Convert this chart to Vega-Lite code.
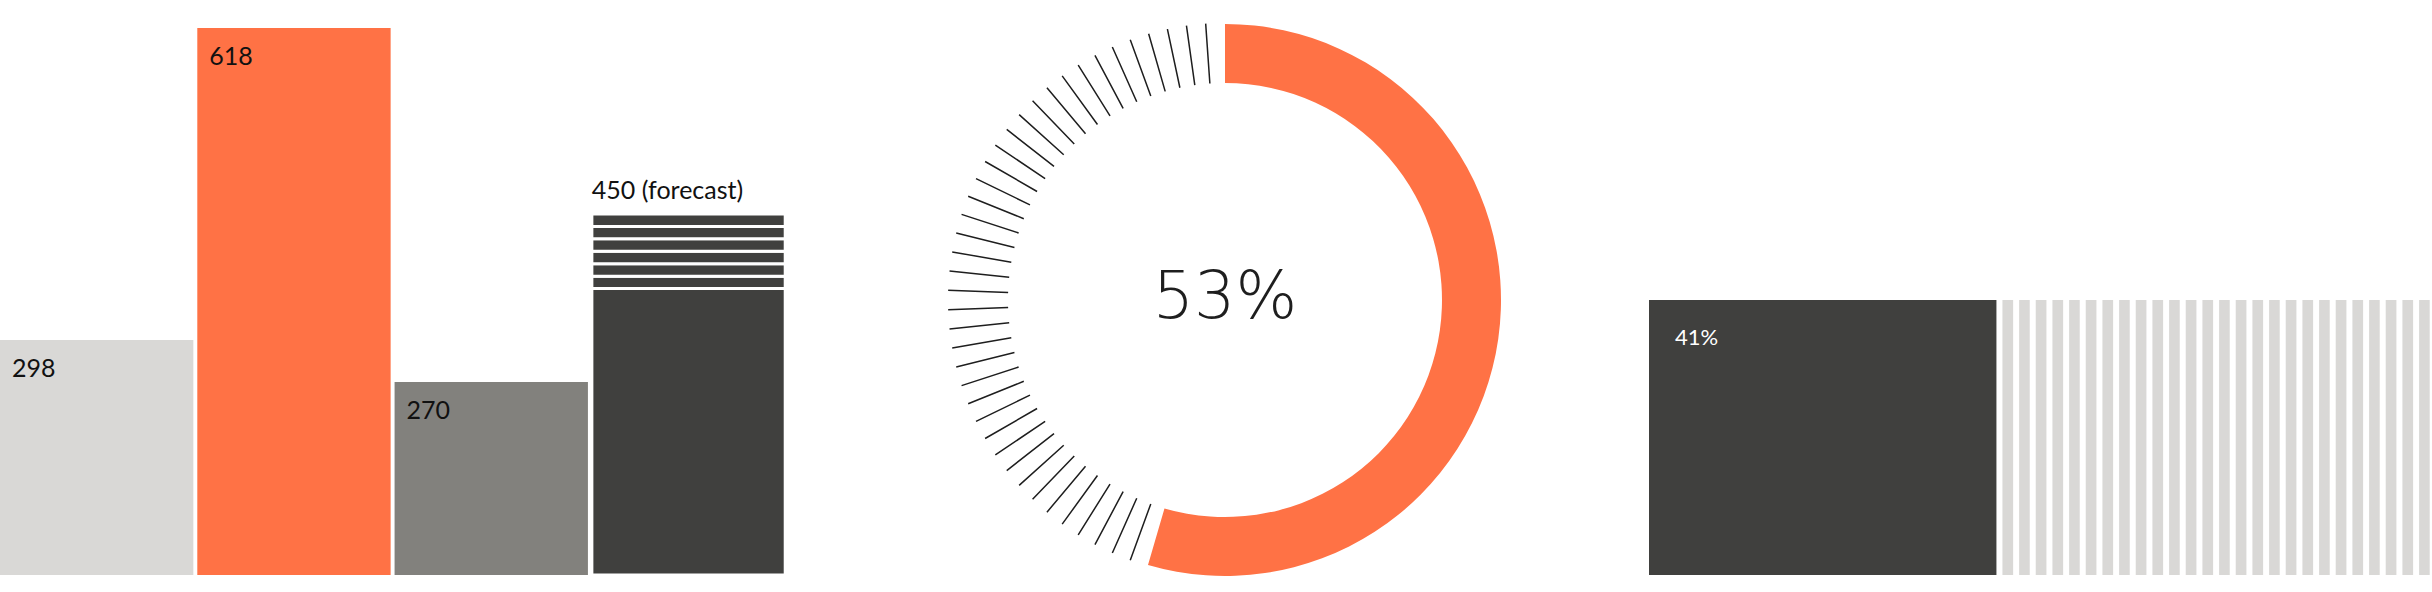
{
  "$schema": "https://vega.github.io/schema/vega-lite/v6.json",
  "description": "Three infographic panels: bars with forecast, a 53% donut, a 41% share strip",
  "padding": {"left": 0, "top": 20, "right": 0, "bottom": 0},
  "background": "white",
  "bounds": "flush",
  "spacing": 144,
  "config": {"view": {"stroke": null}},
  "datasets": {
    "bars": [
      {"bar": "bar1", "value": 298, "label": "298"},
      {"bar": "bar2", "value": 618, "label": "618"},
      {"bar": "bar3", "value": 270, "label": "270"},
      {"bar": "bar4", "value": 450, "label": "450 (forecast)"}
    ],
    "forecast": [
      {"bar": "bar4", "lo": 0, "hi": 360},
      {"bar": "bar4", "lo": 360, "hi": 375},
      {"bar": "bar4", "lo": 375, "hi": 390},
      {"bar": "bar4", "lo": 390, "hi": 405},
      {"bar": "bar4", "lo": 405, "hi": 420},
      {"bar": "bar4", "lo": 420, "hi": 435},
      {"bar": "bar4", "lo": 435, "hi": 450}
    ],
    "donut": [
      {"part": "share", "from": 0, "to": 54.5}
    ],
    "donutLabel": [
      {"label": "53%"}
    ],
    "ticks": [
      {"angle": 200}, {"angle": 204}, {"angle": 208}, {"angle": 212}, {"angle": 216},
      {"angle": 220}, {"angle": 224}, {"angle": 228}, {"angle": 232}, {"angle": 236},
      {"angle": 240}, {"angle": 244}, {"angle": 248}, {"angle": 252}, {"angle": 256},
      {"angle": 260}, {"angle": 264}, {"angle": 268}, {"angle": 272}, {"angle": 276},
      {"angle": 280}, {"angle": 284}, {"angle": 288}, {"angle": 292}, {"angle": 296},
      {"angle": 300}, {"angle": 304}, {"angle": 308}, {"angle": 312}, {"angle": 316},
      {"angle": 320}, {"angle": 324}, {"angle": 328}, {"angle": 332}, {"angle": 336},
      {"angle": 340}, {"angle": 344}, {"angle": 348}, {"angle": 352}, {"angle": 356}
    ],
    "share": [
      {"from": 0, "to": 41, "label": "41%"}
    ],
    "rest": [
      {"from": 41, "to": 42.97}, {"from": 42.97, "to": 44.93}, {"from": 44.93, "to": 46.9},
      {"from": 46.9, "to": 48.87}, {"from": 48.87, "to": 50.83}, {"from": 50.83, "to": 52.8},
      {"from": 52.8, "to": 54.77}, {"from": 54.77, "to": 56.73}, {"from": 56.73, "to": 58.7},
      {"from": 58.7, "to": 60.67}, {"from": 60.67, "to": 62.63}, {"from": 62.63, "to": 64.6},
      {"from": 64.6, "to": 66.57}, {"from": 66.57, "to": 68.53}, {"from": 68.53, "to": 70.5},
      {"from": 70.5, "to": 72.47}, {"from": 72.47, "to": 74.43}, {"from": 74.43, "to": 76.4},
      {"from": 76.4, "to": 78.37}, {"from": 78.37, "to": 80.33}, {"from": 80.33, "to": 82.3},
      {"from": 82.3, "to": 84.27}, {"from": 84.27, "to": 86.23}, {"from": 86.23, "to": 88.2},
      {"from": 88.2, "to": 90.17}, {"from": 90.17, "to": 92.13}, {"from": 92.13, "to": 94.1},
      {"from": 94.1, "to": 96.07}, {"from": 96.07, "to": 98.03}, {"from": 98.03, "to": 100}
    ]
  },
  "hconcat": [
    {
      "width": 801,
      "height": 550,
      "encoding": {
        "x": {
          "field": "bar",
          "type": "nominal",
          "axis": null,
          "scale": {
            "domain": ["bar1", "bar2", "bar3", "bar4"],
            "paddingInner": 0.02,
            "paddingOuter": 0.04,
            "align": 0
          }
        }
      },
      "layer": [
        {
          "data": {"name": "bars"},
          "transform": [{"filter": "datum.bar !== 'bar4'"}],
          "mark": {"type": "bar"},
          "encoding": {
            "y": {
              "field": "value",
              "type": "quantitative",
              "axis": null,
              "scale": {
                "domain": [0, 270, 298, 450, 618],
                "range": [550, 357, 315, 189, 3],
                "nice": false
              }
            },
            "color": {
              "field": "bar",
              "type": "nominal",
              "legend": null,
              "scale": {
                "domain": ["bar1", "bar2", "bar3"],
                "range": ["#d9d8d6", "#ff7245", "#82817d"]
              }
            }
          }
        },
        {
          "data": {"name": "forecast"},
          "mark": {"type": "bar", "fill": "#40403e", "stroke": "white", "strokeWidth": 3},
          "encoding": {
            "y": {"field": "hi", "type": "quantitative"},
            "y2": {"field": "lo"}
          }
        },
        {
          "data": {"name": "bars"},
          "transform": [{"filter": "datum.bar !== 'bar4'"}],
          "mark": {
            "type": "text",
            "align": "left",
            "baseline": "alphabetic",
            "dx": 12,
            "dy": 37,
            "font": "Lato",
            "fontSize": 25,
            "color": "#111111"
          },
          "encoding": {
            "x": {"field": "bar", "type": "nominal", "bandPosition": 0},
            "y": {"field": "value", "type": "quantitative"},
            "text": {"field": "label"}
          }
        },
        {
          "data": {"name": "bars"},
          "transform": [{"filter": "datum.bar === 'bar4'"}],
          "mark": {
            "type": "text",
            "align": "left",
            "baseline": "alphabetic",
            "dx": 0,
            "dy": -15,
            "font": "Lato",
            "fontSize": 25,
            "color": "#111111"
          },
          "encoding": {
            "x": {"field": "bar", "type": "nominal", "bandPosition": 0},
            "y": {"field": "value", "type": "quantitative"},
            "text": {"field": "label"}
          }
        }
      ]
    },
    {
      "width": 560,
      "height": 550,
      "layer": [
        {
          "data": {"name": "donut"},
          "mark": {"type": "arc", "radius": 276, "radius2": 217, "color": "#ff7245"},
          "encoding": {
            "theta": {"field": "from", "type": "quantitative", "scale": {"domain": [0, 100]}},
            "theta2": {"field": "to"}
          }
        },
        {
          "data": {"name": "ticks"},
          "mark": {
            "type": "arc",
            "radius": 277,
            "radius2": 217,
            "filled": false,
            "stroke": "#1e1e1e",
            "strokeWidth": 1.5
          },
          "encoding": {
            "theta": {"field": "angle", "type": "quantitative", "scale": {"domain": [0, 360]}},
            "theta2": {"field": "angle"}
          }
        },
        {
          "data": {"name": "donutLabel"},
          "mark": {
            "type": "text",
            "align": "center",
            "baseline": "middle",
            "dy": -2,
            "font": "DejaVu Sans",
            "fontWeight": 200,
            "fontSize": 65,
            "color": "#1e1e1e"
          },
          "encoding": {"text": {"field": "label"}}
        }
      ],
      "resolve": {"scale": {"theta": "independent"}}
    },
    {
      "width": 783,
      "height": 550,
      "encoding": {
        "x": {
          "field": "from",
          "type": "quantitative",
          "axis": null,
          "scale": {"domain": [0, 92.4], "nice": false}
        },
        "y": {
          "datum": 0,
          "type": "quantitative",
          "axis": null,
          "scale": {"domain": [0, 2], "nice": false}
        }
      },
      "layer": [
        {
          "data": {"name": "share"},
          "mark": {"type": "rect", "color": "#40403e"},
          "encoding": {
            "x2": {"field": "to"},
            "y2": {"datum": 1}
          }
        },
        {
          "data": {"name": "rest"},
          "mark": {"type": "rect", "color": "#d9d8d6", "xOffset": 6, "clip": true},
          "encoding": {
            "x2": {"field": "to"},
            "y2": {"datum": 1}
          }
        },
        {
          "data": {"name": "share"},
          "mark": {
            "type": "text",
            "align": "left",
            "baseline": "alphabetic",
            "dx": 26,
            "dy": 45,
            "font": "Lato",
            "fontSize": 22,
            "color": "white"
          },
          "encoding": {
            "y": {"datum": 1, "type": "quantitative"},
            "text": {"field": "label"}
          }
        }
      ]
    }
  ]
}
